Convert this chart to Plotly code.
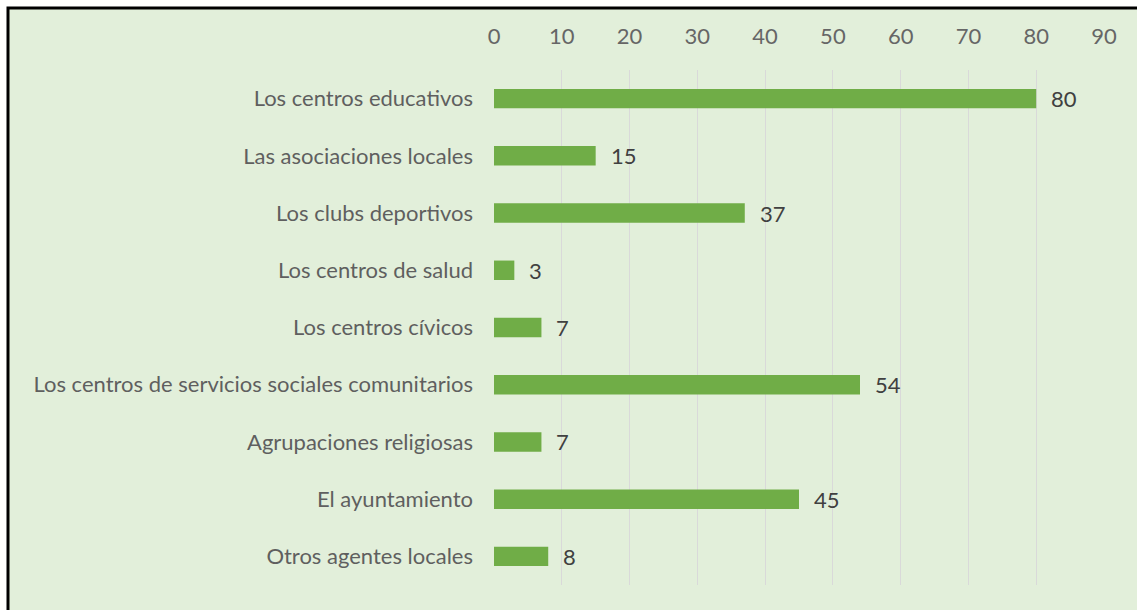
import plotly.graph_objects as go

categories = [
    "Los centros educativos",
    "Las asociaciones locales",
    "Los clubs deportivos",
    "Los centros de salud",
    "Los centros cívicos",
    "Los centros de servicios sociales comunitarios",
    "Agrupaciones religiosas",
    "El ayuntamiento",
    "Otros agentes locales",
]
values = [80, 15, 37, 3, 7, 54, 7, 45, 8]
x_ticks = [0, 10, 20, 30, 40, 50, 60, 70, 80, 90]

W, H = 1137, 610
L, R, T, B = 494, 1104, 70, 585

def px_to_paper_x(px):
    return (px - L) / (R - L)

def px_to_paper_y(py):
    return (B - py) / (B - T)

FONT = "Lato"
FS = 22

fig = go.Figure()
fig.add_trace(go.Bar(
    y=categories,
    x=values,
    orientation="h",
    marker=dict(color="#70AD47", line=dict(width=0)),
    width=0.34,
    hoverinfo="x+y",
))

annotations = [
    dict(x=v, y=c, xref="x", yref="y", text=str(v), showarrow=False,
         xanchor="left", yanchor="middle", xshift=13,
         font=dict(family=FONT, size=FS, color="#404040"))
    for c, v in zip(categories, values)
]

fig.update_layout(
    width=W, height=H,
    margin=dict(l=L, r=W - R, t=T, b=H - B, pad=0),
    paper_bgcolor="white",
    plot_bgcolor="rgba(0,0,0,0)",
    showlegend=False,
    bargap=0.66,
    annotations=annotations,
    shapes=[dict(
        type="rect", xref="paper", yref="paper",
        x0=px_to_paper_x(8), x1=px_to_paper_x(1150),
        y0=px_to_paper_y(620), y1=px_to_paper_y(8),
        line=dict(color="black", width=3),
        fillcolor="#E2EFDA", layer="below",
    )],
    xaxis=dict(
        side="top", range=[0, 90], tickvals=x_ticks,
        showgrid=True, gridcolor="#D9D9D9", gridwidth=1,
        zeroline=False, showline=False, ticks="",
        ticklabelstandoff=21,
        tickfont=dict(family=FONT, size=FS, color="#666666"),
        fixedrange=True,
    ),
    yaxis=dict(
        autorange="reversed", categoryorder="array", categoryarray=categories,
        showgrid=False, zeroline=False, showline=False, ticks="",
        ticklabelstandoff=20,
        tickfont=dict(family=FONT, size=FS, color="#5f5f5f"),
        fixedrange=True,
    ),
)

fig.write_html(
    "out.html",
    config={"displayModeBar": False},
    post_script="document.body.style.margin='0';document.body.style.overflow='hidden';",
)
